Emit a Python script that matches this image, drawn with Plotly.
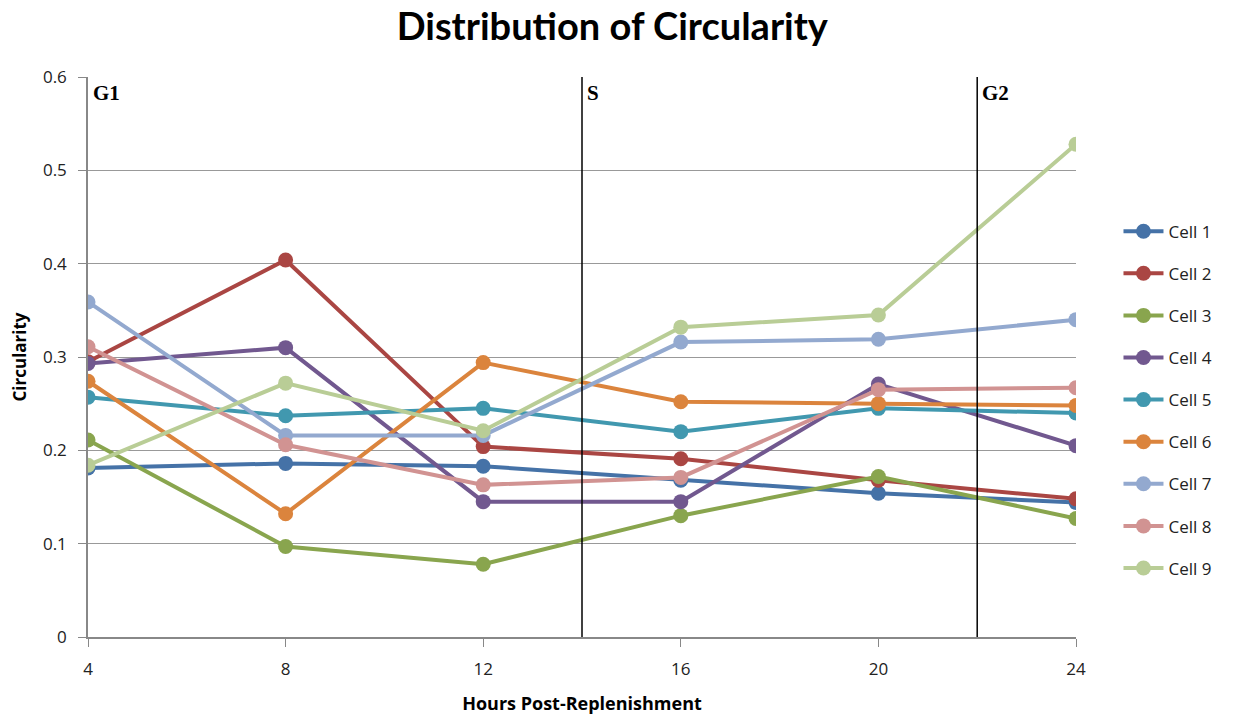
import plotly.graph_objects as go

hours = [4, 8, 12, 16, 20, 24]
cell_names = ["Cell 1", "Cell 2", "Cell 3", "Cell 4", "Cell 5", "Cell 6", "Cell 7", "Cell 8", "Cell 9"]
cell1 = [0.181, 0.186, 0.183, 0.168, 0.154, 0.144]
cell2 = [0.295, 0.404, 0.204, 0.191, 0.168, 0.148]
cell3 = [0.211, 0.097, 0.078, 0.130, 0.172, 0.127]
cell4 = [0.293, 0.310, 0.145, 0.145, 0.271, 0.205]
cell5 = [0.257, 0.237, 0.245, 0.220, 0.245, 0.240]
cell6 = [0.274, 0.132, 0.294, 0.252, 0.250, 0.248]
cell7 = [0.359, 0.216, 0.216, 0.316, 0.319, 0.340]
cell8 = [0.311, 0.206, 0.163, 0.171, 0.265, 0.267]
cell9 = [0.184, 0.272, 0.221, 0.332, 0.345, 0.528]
series = [cell1, cell2, cell3, cell4, cell5, cell6, cell7, cell8, cell9]
colors = ["#4572A7", "#AA4643", "#89A54E", "#71588F", "#4198AF",
          "#DB843D", "#93A9CF", "#D19392", "#B9CD96"]

phase_bounds = [14, 22]
phase_labels = ["G1", "S", "G2"]
phase_label_x = [4, 14, 22]

fig = go.Figure()
for name, vals, col in zip(cell_names, series, colors):
    fig.add_trace(go.Scatter(
        x=hours, y=vals, name=name, mode="lines+markers",
        line=dict(color=col, width=4),
        marker=dict(color=col, size=15),
        legendgroup=name,
    ))

for xb in phase_bounds:
    fig.add_shape(type="line", x0=xb, x1=xb, y0=0, y1=0.6, xref="x", yref="y",
                  line=dict(color="black", width=1.5))

for lab, xl in zip(phase_labels, phase_label_x):
    fig.add_annotation(x=xl, y=0.6, text="<b>" + lab + "</b>", showarrow=False,
                       xanchor="left", yanchor="top", xshift=3, yshift=-2,
                       font=dict(family="Liberation Serif", size=21, color="black"))

fig.update_layout(
    width=1237, height=716,
    margin=dict(l=88, r=161, t=77, b=79),
    paper_bgcolor="white", plot_bgcolor="white",
    font=dict(family="Open Sans", color="#222"),
    title=dict(text="<b>Distribution of Circularity</b>", x=0.495, xanchor="center",
               y=0.963, yanchor="middle", font=dict(family="Lato", size=38, color="black")),
    showlegend=True,
    legend=dict(x=1.043, xanchor="left", y=0.756, yanchor="top",
                font=dict(family="Open Sans", size=17, color="#222"),
                tracegroupgap=17, itemwidth=40, bgcolor="rgba(0,0,0,0)"),
    xaxis=dict(range=[4, 24], tickvals=hours, ticks="outside", ticklen=8,
               tickcolor="#888", showline=True, linecolor="#888", linewidth=1.5,
               showgrid=False, zeroline=False, ticklabelstandoff=8, automargin=False,
               tickfont=dict(family="Open Sans", size=17, color="#222"),
               title=dict(text="<b>Hours Post-Replenishment</b>", standoff=18,
                          font=dict(family="Open Sans", size=18, color="black"))),
    yaxis=dict(range=[0, 0.6], tickvals=[0, 0.1, 0.2, 0.3, 0.4, 0.5, 0.6],
               ticktext=["0", "0.1", "0.2", "0.3", "0.4", "0.5", "0.6"],
               ticks="outside", ticklen=8, tickcolor="#888", ticklabelstandoff=8,
               showline=True, linecolor="#888", linewidth=1.5, automargin=False,
               showgrid=True, gridcolor="#999", gridwidth=1, zeroline=False,
               tickfont=dict(family="Open Sans", size=17, color="#222"),
               title=dict(text="<b>Circularity</b>", standoff=12,
                          font=dict(family="Open Sans", size=17, color="black"))),
)

fig.write_html("out.html")
